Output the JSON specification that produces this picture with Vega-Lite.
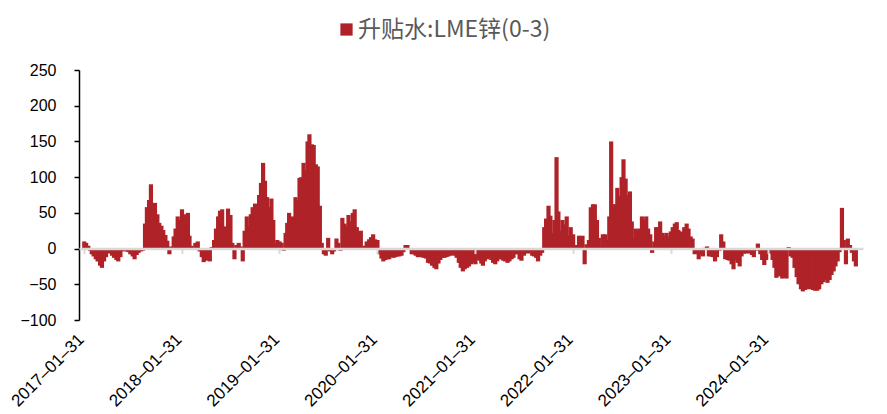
{
  "$schema": "https://vega.github.io/schema/vega-lite/v6.json",
  "autosize": {"type": "none"},
  "width": 784,
  "height": 250,
  "padding": {"left": 79, "top": 70, "right": 24, "bottom": 94},
  "background": "white",
  "config": {"view": {"stroke": null}, "font": "Liberation Sans"},
  "data": {"values": [
    {"d":"2017-02-01","v":10},{"d":"2017-02-08","v":8},{"d":"2017-02-16","v":4},{"d":"2017-02-23","v":-3},
    {"d":"2017-03-01","v":-8},{"d":"2017-03-08","v":-11},{"d":"2017-03-16","v":-15},{"d":"2017-03-23","v":-18},
    {"d":"2017-04-01","v":-24},{"d":"2017-04-08","v":-27},{"d":"2017-04-16","v":-18},{"d":"2017-04-23","v":-12},
    {"d":"2017-05-01","v":-2},{"d":"2017-05-08","v":-7},{"d":"2017-05-16","v":-10},{"d":"2017-05-23","v":-13},
    {"d":"2017-06-01","v":-16},{"d":"2017-06-08","v":-18},{"d":"2017-06-16","v":-12},{"d":"2017-06-23","v":-4},
    {"d":"2017-07-01","v":-2},{"d":"2017-07-08","v":-4},{"d":"2017-07-16","v":-5},{"d":"2017-07-23","v":-8},
    {"d":"2017-08-01","v":-11},{"d":"2017-08-08","v":-15},{"d":"2017-08-16","v":-9},{"d":"2017-08-23","v":-6},
    {"d":"2017-09-01","v":-4},{"d":"2017-09-08","v":-3},{"d":"2017-09-16","v":35},{"d":"2017-09-23","v":58},
    {"d":"2017-10-01","v":68},{"d":"2017-10-08","v":90},{"d":"2017-10-16","v":60},{"d":"2017-10-23","v":64},
    {"d":"2017-11-01","v":48},{"d":"2017-11-08","v":36},{"d":"2017-11-16","v":32},{"d":"2017-11-23","v":26},
    {"d":"2017-12-01","v":19},{"d":"2017-12-08","v":11},{"d":"2017-12-16","v":-8},{"d":"2017-12-23","v":3},
    {"d":"2018-01-01","v":17},{"d":"2018-01-08","v":28},{"d":"2018-01-16","v":45},{"d":"2018-01-23","v":40},
    {"d":"2018-02-01","v":55},{"d":"2018-02-08","v":48},{"d":"2018-02-16","v":42},{"d":"2018-02-23","v":50},
    {"d":"2018-03-01","v":18},{"d":"2018-03-08","v":4},{"d":"2018-03-16","v":2},{"d":"2018-03-23","v":8},
    {"d":"2018-04-01","v":10},{"d":"2018-04-08","v":-4},{"d":"2018-04-16","v":-12},{"d":"2018-04-23","v":-19},
    {"d":"2018-05-01","v":-17},{"d":"2018-05-08","v":-16},{"d":"2018-05-16","v":-18},{"d":"2018-05-23","v":2},
    {"d":"2018-06-01","v":12},{"d":"2018-06-08","v":28},{"d":"2018-06-16","v":45},{"d":"2018-06-23","v":53},
    {"d":"2018-07-01","v":55},{"d":"2018-07-08","v":31},{"d":"2018-07-16","v":30},{"d":"2018-07-23","v":56},
    {"d":"2018-08-01","v":47},{"d":"2018-08-08","v":8},{"d":"2018-08-16","v":-15},{"d":"2018-08-23","v":5},
    {"d":"2018-09-01","v":8},{"d":"2018-09-08","v":3},{"d":"2018-09-16","v":-18},{"d":"2018-09-23","v":25},
    {"d":"2018-10-01","v":45},{"d":"2018-10-08","v":32},{"d":"2018-10-16","v":48},{"d":"2018-10-23","v":58},
    {"d":"2018-11-01","v":63},{"d":"2018-11-08","v":57},{"d":"2018-11-16","v":75},{"d":"2018-11-23","v":92},
    {"d":"2018-12-01","v":120},{"d":"2018-12-08","v":95},{"d":"2018-12-16","v":72},{"d":"2018-12-23","v":58},
    {"d":"2019-01-01","v":70},{"d":"2019-01-08","v":40},{"d":"2019-01-16","v":8},{"d":"2019-01-23","v":12},
    {"d":"2019-02-01","v":10},{"d":"2019-02-08","v":8},{"d":"2019-02-16","v":-3},{"d":"2019-02-23","v":22},
    {"d":"2019-03-01","v":36},{"d":"2019-03-08","v":50},{"d":"2019-03-16","v":34},{"d":"2019-03-23","v":45},
    {"d":"2019-04-01","v":72},{"d":"2019-04-08","v":68},{"d":"2019-04-16","v":99},{"d":"2019-04-23","v":100},
    {"d":"2019-05-01","v":120},{"d":"2019-05-08","v":110},{"d":"2019-05-16","v":150},{"d":"2019-05-23","v":160},
    {"d":"2019-06-01","v":146},{"d":"2019-06-08","v":145},{"d":"2019-06-16","v":118},{"d":"2019-06-23","v":115},
    {"d":"2019-07-01","v":60},{"d":"2019-07-08","v":8},{"d":"2019-07-16","v":-8},{"d":"2019-07-23","v":-10},
    {"d":"2019-08-01","v":15},{"d":"2019-08-08","v":-4},{"d":"2019-08-16","v":-8},{"d":"2019-08-23","v":-4},
    {"d":"2019-09-01","v":14},{"d":"2019-09-08","v":8},{"d":"2019-09-16","v":-3},{"d":"2019-09-23","v":43},
    {"d":"2019-10-01","v":35},{"d":"2019-10-08","v":31},{"d":"2019-10-16","v":47},{"d":"2019-10-23","v":38},
    {"d":"2019-11-01","v":50},{"d":"2019-11-08","v":55},{"d":"2019-11-16","v":30},{"d":"2019-11-23","v":24},
    {"d":"2019-12-01","v":25},{"d":"2019-12-08","v":0},{"d":"2019-12-16","v":4},{"d":"2019-12-23","v":10},
    {"d":"2020-01-01","v":13},{"d":"2020-01-08","v":16},{"d":"2020-01-16","v":20},{"d":"2020-01-23","v":13},
    {"d":"2020-02-01","v":12},{"d":"2020-02-08","v":-8},{"d":"2020-02-16","v":-14},{"d":"2020-02-23","v":-18},
    {"d":"2020-03-01","v":-16},{"d":"2020-03-08","v":-15},{"d":"2020-03-16","v":-15},{"d":"2020-03-23","v":-12},
    {"d":"2020-04-01","v":-13},{"d":"2020-04-08","v":-12},{"d":"2020-04-16","v":-11},{"d":"2020-04-23","v":-11},
    {"d":"2020-05-01","v":-10},{"d":"2020-05-08","v":-5},{"d":"2020-05-16","v":5},{"d":"2020-05-23","v":5},
    {"d":"2020-06-01","v":0},{"d":"2020-06-08","v":-8},{"d":"2020-06-16","v":-8},{"d":"2020-06-23","v":-10},
    {"d":"2020-07-01","v":-12},{"d":"2020-07-08","v":-12},{"d":"2020-07-16","v":-12},{"d":"2020-07-23","v":-13},
    {"d":"2020-08-01","v":-14},{"d":"2020-08-08","v":-20},{"d":"2020-08-16","v":-21},{"d":"2020-08-23","v":-24},
    {"d":"2020-09-01","v":-27},{"d":"2020-09-08","v":-29},{"d":"2020-09-16","v":-21},{"d":"2020-09-23","v":-16},
    {"d":"2020-10-01","v":-13},{"d":"2020-10-08","v":-13},{"d":"2020-10-16","v":-12},{"d":"2020-10-23","v":-11},
    {"d":"2020-11-01","v":-10},{"d":"2020-11-08","v":-8},{"d":"2020-11-16","v":-10},{"d":"2020-11-23","v":-13},
    {"d":"2020-12-01","v":-20},{"d":"2020-12-08","v":-27},{"d":"2020-12-16","v":-32},{"d":"2020-12-23","v":-29},
    {"d":"2021-01-01","v":-27},{"d":"2021-01-08","v":-25},{"d":"2021-01-16","v":-22},{"d":"2021-01-23","v":-20},
    {"d":"2021-02-01","v":-22},{"d":"2021-02-08","v":-15},{"d":"2021-02-16","v":-17},{"d":"2021-02-23","v":-21},
    {"d":"2021-03-01","v":-24},{"d":"2021-03-08","v":-18},{"d":"2021-03-16","v":-15},{"d":"2021-03-23","v":-13},
    {"d":"2021-04-01","v":-16},{"d":"2021-04-08","v":-20},{"d":"2021-04-16","v":-22},{"d":"2021-04-23","v":-18},
    {"d":"2021-05-01","v":-15},{"d":"2021-05-08","v":-15},{"d":"2021-05-16","v":-17},{"d":"2021-05-23","v":-18},
    {"d":"2021-06-01","v":-20},{"d":"2021-06-08","v":-18},{"d":"2021-06-16","v":-15},{"d":"2021-06-23","v":-13},
    {"d":"2021-07-01","v":-8},{"d":"2021-07-08","v":-8},{"d":"2021-07-16","v":-15},{"d":"2021-07-23","v":-17},
    {"d":"2021-08-01","v":-10},{"d":"2021-08-08","v":-5},{"d":"2021-08-16","v":-7},{"d":"2021-08-23","v":-4},
    {"d":"2021-09-01","v":-10},{"d":"2021-09-08","v":-11},{"d":"2021-09-16","v":-13},{"d":"2021-09-23","v":-18},
    {"d":"2021-10-01","v":-10},{"d":"2021-10-08","v":-6},{"d":"2021-10-16","v":30},{"d":"2021-10-23","v":42},
    {"d":"2021-11-01","v":60},{"d":"2021-11-08","v":46},{"d":"2021-11-16","v":22},{"d":"2021-11-23","v":40},
    {"d":"2021-12-01","v":128},{"d":"2021-12-08","v":52},{"d":"2021-12-16","v":25},{"d":"2021-12-23","v":40},
    {"d":"2022-01-01","v":34},{"d":"2022-01-08","v":45},{"d":"2022-01-16","v":18},{"d":"2022-01-23","v":30},
    {"d":"2022-02-01","v":20},{"d":"2022-02-08","v":5},{"d":"2022-02-16","v":-2},{"d":"2022-02-23","v":18},
    {"d":"2022-03-01","v":12},{"d":"2022-03-08","v":18},{"d":"2022-03-16","v":-22},{"d":"2022-03-23","v":6},
    {"d":"2022-04-01","v":12},{"d":"2022-04-08","v":58},{"d":"2022-04-16","v":62},{"d":"2022-04-23","v":62},
    {"d":"2022-05-01","v":40},{"d":"2022-05-08","v":15},{"d":"2022-05-16","v":3},{"d":"2022-05-23","v":20},
    {"d":"2022-06-01","v":20},{"d":"2022-06-08","v":12},{"d":"2022-06-16","v":45},{"d":"2022-06-23","v":150},
    {"d":"2022-07-01","v":62},{"d":"2022-07-08","v":62},{"d":"2022-07-16","v":85},{"d":"2022-07-23","v":74},
    {"d":"2022-08-01","v":100},{"d":"2022-08-08","v":125},{"d":"2022-08-16","v":98},{"d":"2022-08-23","v":75},
    {"d":"2022-09-01","v":80},{"d":"2022-09-08","v":38},{"d":"2022-09-16","v":15},{"d":"2022-09-23","v":28},
    {"d":"2022-10-01","v":25},{"d":"2022-10-08","v":28},{"d":"2022-10-16","v":45},{"d":"2022-10-23","v":40},
    {"d":"2022-11-01","v":45},{"d":"2022-11-08","v":28},{"d":"2022-11-16","v":20},{"d":"2022-11-23","v":-6},
    {"d":"2022-12-01","v":10},{"d":"2022-12-08","v":30},{"d":"2022-12-16","v":30},{"d":"2022-12-23","v":38},
    {"d":"2023-01-01","v":22},{"d":"2023-01-08","v":18},{"d":"2023-01-16","v":22},{"d":"2023-01-23","v":17},
    {"d":"2023-02-01","v":24},{"d":"2023-02-08","v":30},{"d":"2023-02-16","v":35},{"d":"2023-02-23","v":37},
    {"d":"2023-03-01","v":26},{"d":"2023-03-08","v":24},{"d":"2023-03-16","v":23},{"d":"2023-03-23","v":30},
    {"d":"2023-04-01","v":35},{"d":"2023-04-08","v":28},{"d":"2023-04-16","v":17},{"d":"2023-04-23","v":14},
    {"d":"2023-05-01","v":-8},{"d":"2023-05-08","v":-7},{"d":"2023-05-16","v":-15},{"d":"2023-05-23","v":-9},
    {"d":"2023-06-01","v":-11},{"d":"2023-06-08","v":1},{"d":"2023-06-16","v":3},{"d":"2023-06-23","v":-11},
    {"d":"2023-07-01","v":-11},{"d":"2023-07-08","v":-12},{"d":"2023-07-16","v":-18},{"d":"2023-07-23","v":-12},
    {"d":"2023-08-01","v":-3},{"d":"2023-08-08","v":20},{"d":"2023-08-16","v":10},{"d":"2023-08-23","v":-15},
    {"d":"2023-09-01","v":-16},{"d":"2023-09-08","v":-17},{"d":"2023-09-16","v":-22},{"d":"2023-09-23","v":-29},
    {"d":"2023-10-01","v":-16},{"d":"2023-10-08","v":-20},{"d":"2023-10-16","v":-25},{"d":"2023-10-23","v":-11},
    {"d":"2023-11-01","v":-7},{"d":"2023-11-08","v":-7},{"d":"2023-11-16","v":-6},{"d":"2023-11-23","v":-7},
    {"d":"2023-12-01","v":-9},{"d":"2023-12-08","v":-12},{"d":"2023-12-16","v":-3},{"d":"2023-12-23","v":7},
    {"d":"2024-01-01","v":-8},{"d":"2024-01-08","v":-16},{"d":"2024-01-16","v":-23},{"d":"2024-01-23","v":-16},
    {"d":"2024-02-01","v":-6},{"d":"2024-02-08","v":-7},{"d":"2024-02-16","v":-16},{"d":"2024-02-23","v":-27},
    {"d":"2024-03-01","v":-41},{"d":"2024-03-08","v":-39},{"d":"2024-03-16","v":-38},{"d":"2024-03-23","v":-42},
    {"d":"2024-04-01","v":-41},{"d":"2024-04-08","v":-42},{"d":"2024-04-16","v":2},{"d":"2024-04-23","v":-11},
    {"d":"2024-05-01","v":-13},{"d":"2024-05-08","v":-27},{"d":"2024-05-16","v":-40},{"d":"2024-05-23","v":-50},
    {"d":"2024-06-01","v":-57},{"d":"2024-06-08","v":-60},{"d":"2024-06-16","v":-58},{"d":"2024-06-23","v":-54},
    {"d":"2024-07-01","v":-57},{"d":"2024-07-08","v":-55},{"d":"2024-07-16","v":-58},{"d":"2024-07-23","v":-59},
    {"d":"2024-08-01","v":-59},{"d":"2024-08-08","v":-57},{"d":"2024-08-16","v":-50},{"d":"2024-08-23","v":-47},
    {"d":"2024-09-01","v":-44},{"d":"2024-09-08","v":-48},{"d":"2024-09-16","v":-44},{"d":"2024-09-23","v":-37},
    {"d":"2024-10-01","v":-32},{"d":"2024-10-08","v":-25},{"d":"2024-10-16","v":-18},{"d":"2024-10-23","v":-5},
    {"d":"2024-11-01","v":57},{"d":"2024-11-08","v":12},{"d":"2024-11-16","v":-22},{"d":"2024-11-23","v":14},
    {"d":"2024-12-01","v":5},{"d":"2024-12-08","v":-6},{"d":"2024-12-16","v":-18},{"d":"2024-12-23","v":-25}
  ]},
  "mark": {"type": "bar", "width": 4.2, "stroke": null},
  "encoding": {
    "x": {
      "field": "d",
      "type": "temporal",
      "scale": {
        "type": "utc",
        "domain": [{"year": 2017, "month": 1, "date": 31, "utc": true}, {"year": 2024, "month": 12, "date": 31, "utc": true}]
      },
      "axis": {
        "title": null,
        "values": [
          {"year": 2017, "month": 1, "date": 31, "utc": true},
          {"year": 2018, "month": 1, "date": 31, "utc": true},
          {"year": 2019, "month": 1, "date": 31, "utc": true},
          {"year": 2020, "month": 1, "date": 31, "utc": true},
          {"year": 2021, "month": 1, "date": 31, "utc": true},
          {"year": 2022, "month": 1, "date": 31, "utc": true},
          {"year": 2023, "month": 1, "date": 31, "utc": true},
          {"year": 2024, "month": 1, "date": 31, "utc": true}
        ],
        "labelExpr": "replace(utcFormat(datum.value, '%Y-%m-%d'), regexp('-', 'g'), '–')",
        "offset": -71.43,
        "zindex": 1,
        "domainColor": "#d9d9d9",
        "domainWidth": 2.5,
        "tickColor": "#d9d9d9",
        "tickWidth": 2,
        "tickSize": 5,
        "grid": false,
        "labelAngle": -45,
        "labelAlign": "right",
        "labelBaseline": "middle",
        "labelPadding": 83,
        "labelOffset": -3,
        "labelFontSize": 17,
        "labelColor": "#000000",
        "labelOverlap": false,
        "labelFont": "Liberation Sans"
      }
    },
    "y": {
      "field": "v",
      "type": "quantitative",
      "scale": {"domain": [-100, 250], "nice": false, "zero": false},
      "axis": {
        "title": null,
        "values": [-100, -50, 0, 50, 100, 150, 200, 250],
        "grid": false,
        "domainColor": "#000000",
        "domainWidth": 1.5,
        "tickColor": "#000000",
        "tickWidth": 1.5,
        "tickSize": 5,
        "labelPadding": 18,
        "labelFontSize": 16,
        "labelColor": "#000000",
        "labelFont": "Liberation Sans"
      }
    },
    "color": {
      "datum": "升贴水:LME锌(0-3)",
      "type": "nominal",
      "scale": {"range": ["#AF2328"]},
      "legend": {
        "title": null,
        "orient": "none",
        "legendX": 256,
        "legendY": -52,
        "symbolType": "square",
        "symbolSize": 150,
        "symbolStrokeWidth": 0,
        "labelFont": "Noto Sans CJK SC",
        "labelFontSize": 23,
        "labelColor": "#595959",
        "labelOffset": 0,
        "labelLimit": 400
      }
    }
  }
}
